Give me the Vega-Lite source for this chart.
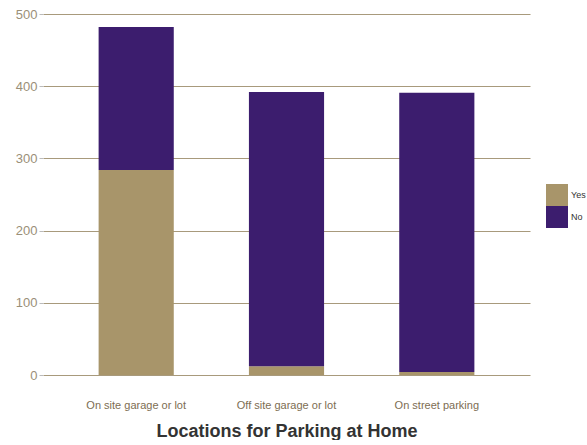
{
  "$schema": "https://vega.github.io/schema/vega-lite/v6.json",
  "width": 487,
  "height": 361,
  "padding": {"left": 15, "top": 8, "right": 0, "bottom": 0},
  "data": {
    "values": [
      {"location": "On site garage or lot", "status": "Yes", "count": 284},
      {"location": "On site garage or lot", "status": "No", "count": 198},
      {"location": "Off site garage or lot", "status": "Yes", "count": 12},
      {"location": "Off site garage or lot", "status": "No", "count": 380},
      {"location": "On street parking", "status": "Yes", "count": 4},
      {"location": "On street parking", "status": "No", "count": 387}
    ]
  },
  "mark": {"type": "bar"},
  "encoding": {
    "x": {
      "field": "location",
      "type": "nominal",
      "sort": ["On site garage or lot", "Off site garage or lot", "On street parking"],
      "scale": {"paddingInner": 0.5, "paddingOuter": 0.37},
      "axis": {
        "title": "Locations for Parking at Home",
        "labelAngle": 0,
        "labelFont": "Liberation Sans",
        "labelFontSize": 11,
        "labelColor": "#7d6d52",
        "labelPadding": 24,
        "ticks": false,
        "domain": false,
        "titleFont": "Liberation Sans",
        "titleFontSize": 18,
        "titleFontWeight": "bold",
        "titleColor": "#333333",
        "titlePadding": 12
      }
    },
    "y": {
      "field": "count",
      "type": "quantitative",
      "stack": "zero",
      "scale": {"domain": [0, 500], "nice": false},
      "axis": {
        "title": null,
        "values": [0, 100, 200, 300, 400, 500],
        "labelFont": "Liberation Sans",
        "labelFontSize": 13,
        "labelColor": "#9a8f78",
        "labelPadding": 2,
        "tickColor": "#bbbbbb",
        "tickSize": 4,
        "domain": false,
        "grid": true,
        "gridColor": "#a89a7c",
        "gridWidth": 1.2
      }
    },
    "color": {
      "field": "status",
      "type": "nominal",
      "scale": {"domain": ["Yes", "No"], "range": ["#a8956a", "#3c1d6e"]},
      "legend": {
        "title": null,
        "orient": "none",
        "legendX": 503,
        "legendY": 170,
        "symbolType": "square",
        "symbolSize": 484,
        "symbolStrokeWidth": 0,
        "symbolOpacity": 1,
        "labelFont": "Liberation Sans",
        "labelFontSize": 9,
        "labelColor": "#333333",
        "labelOffset": 3,
        "rowPadding": 0
      }
    },
    "order": {"field": "status", "sort": "descending"}
  },
  "config": {
    "view": {"stroke": null},
    "background": "#ffffff"
  }
}
